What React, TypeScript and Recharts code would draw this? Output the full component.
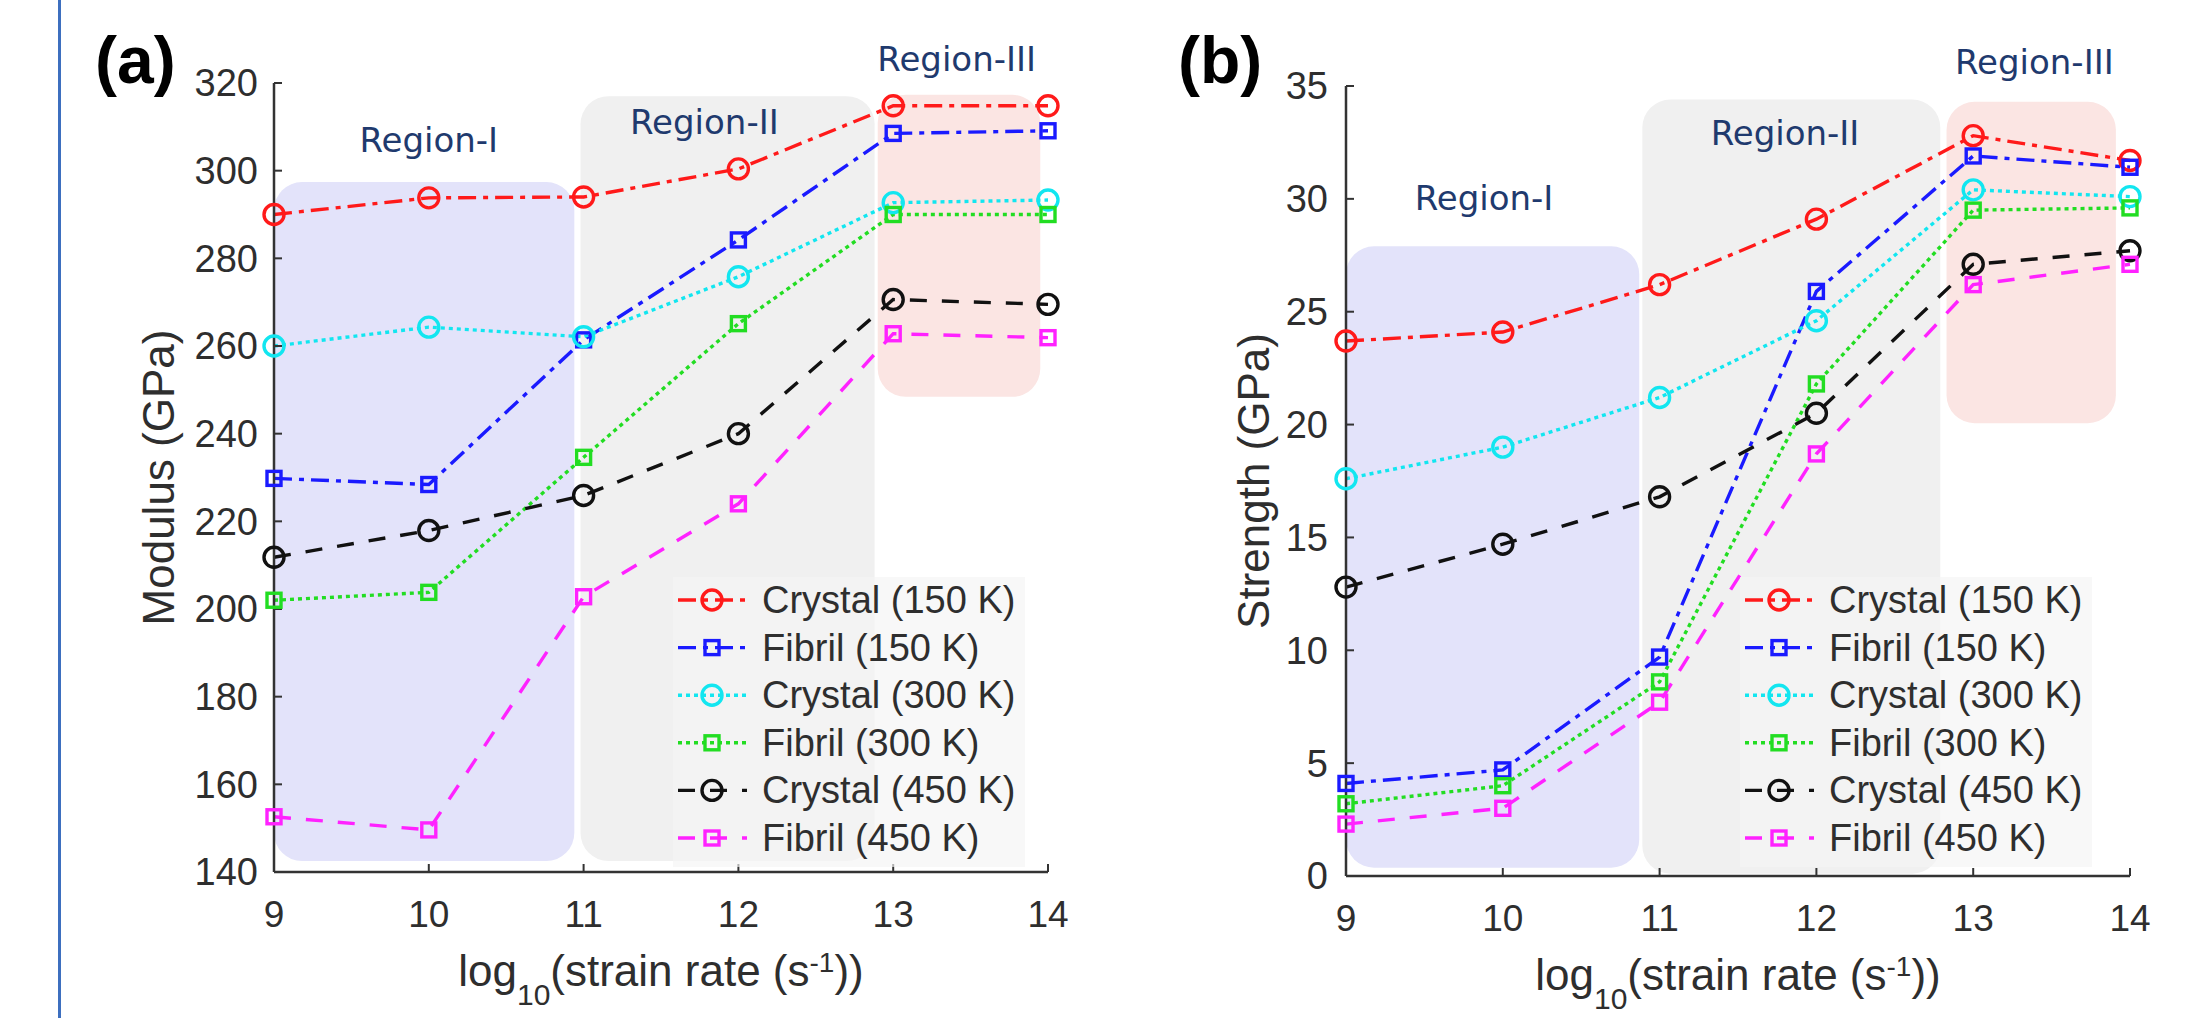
import React from "react";
import { LineChart, Line, XAxis, YAxis, ReferenceArea, ReferenceDot, Legend, Label } from "recharts";

// strain rate exponents (x axis)
const rates = [9, 10, 11, 12, 13, 14];
const xTicks = [9, 10, 11, 12, 13, 14];

// panel (a) - modulus (GPa)
const modCrystal150 = [290, 293.8, 294, 300.4, 314.8, 314.8];
const modFibril150 = [229.8, 228.4, 261.4, 284.2, 308.5, 309.1];
const modCrystal300 = [260, 264.3, 262.1, 275.8, 292.7, 293.3];
const modFibril300 = [202, 203.8, 234.6, 265.1, 290, 290];
const modCrystal450 = [211.8, 217.9, 225.9, 240, 270.6, 269.5];
const modFibril450 = [152.6, 149.6, 202.8, 224, 262.8, 261.9];
const modTicks = [140, 160, 180, 200, 220, 240, 260, 280, 300, 320];

// panel (b) - strength (GPa)
const strCrystal150 = [23.7, 24.1, 26.2, 29.1, 32.8, 31.7];
const strFibril150 = [4.1, 4.7, 9.7, 25.9, 31.9, 31.4];
const strCrystal300 = [17.6, 19.0, 21.2, 24.6, 30.4, 30.1];
const strFibril300 = [3.2, 4.0, 8.6, 21.8, 29.5, 29.6];
const strCrystal450 = [12.8, 14.7, 16.8, 20.5, 27.1, 27.7];
const strFibril450 = [2.3, 3.0, 7.7, 18.7, 26.2, 27.1];
const strTicks = [0, 5, 10, 15, 20, 25, 30, 35];

const seriesKeys = ["c150", "f150", "c300", "f300", "c450", "f450"];
const seriesNames = ["Crystal (150 K)", "Fibril (150 K)", "Crystal (300 K)", "Fibril (300 K)", "Crystal (450 K)", "Fibril (450 K)"];
const seriesColors = ["#ff1a1a", "#1a1aff", "#12e6f0", "#22dd22", "#111111", "#ff22ff"];
const seriesDash = ["18 7 5 7", "18 7 5 7", "4 4", "4 4", "17 15", "17 15"];
const seriesShape = ["circle", "square", "circle", "square", "circle", "square"];

// shaded regions [x1, x2, y1, y2]
const regionColors = ["#e3e3fa", "#f0f0f0", "#fbe5e3"];
const modRegions = [[9, 10.94, 142.5, 297.4], [10.98, 12.88, 142.5, 317], [12.9, 13.95, 248.4, 317.3]];
const strRegions = [[9, 10.87, 0.37, 27.9], [10.89, 12.79, 0.1, 34.4], [12.83, 13.91, 20.06, 34.3]];
const regionNames = ["Region-I", "Region-II", "Region-III"];
const modRegionTags = [[10.0, 307.0], [11.78, 311.1], [13.41, 325.5]];
const strRegionTags = [[9.88, 30.04], [11.8, 32.9], [13.39, 36.07]];

const FONT = '"Liberation Sans", Arial, Helvetica, sans-serif';
const INK = "#2e2e2e";
const AXIS = "#333333";
const NAVY = "#1f3a6e";
const LW = 3.4;

const series = seriesKeys.map((key, i) => ({
    key,
    name: seriesNames[i],
    color: seriesColors[i],
    dash: seriesDash[i],
    shape: seriesShape[i],
}));

function buildRows(cols: number[][]) {
    return rates.map((x, i) => {
        const row: any = { x };
        seriesKeys.forEach((k, j) => (row[k] = cols[j][i]));
        return row;
    });
}

const modRows = buildRows([modCrystal150, modFibril150, modCrystal300, modFibril300, modCrystal450, modFibril450]);
const strRows = buildRows([strCrystal150, strFibril150, strCrystal300, strFibril300, strCrystal450, strFibril450]);

function Marker(props: any) {
    const { cx, cy, stroke, shape } = props;
    if (cx == null || cy == null) return <g />;
    if (shape === "square") {
        return <rect x={cx - 7} y={cy - 7} width={14} height={14} fill="none" stroke={stroke} strokeWidth={LW} />;
    }
    return <circle cx={cx} cy={cy} r={10} fill="none" stroke={stroke} strokeWidth={LW} />;
}

const roundRect = (p: any) => (
    <rect x={p.x} y={p.y} width={p.width} height={p.height} rx={28} ry={28} fill={p.fill} />
);

function LegendBox() {
    return (
        <svg width={352} height={290} style={{ display: "block" }}>
            <rect width={352} height={290} fill="#f4f4f4" fillOpacity={0.65} />
            {series.map((s, i) => {
                const cy = 23 + i * 47.6;
                return (
                    <g key={s.key}>
                        <line x1={5} x2={74} y1={cy} y2={cy} stroke={s.color} strokeWidth={LW} strokeDasharray={s.dash} />
                        <Marker cx={39} cy={cy} stroke={s.color} shape={s.shape} />
                        <text x={89} y={cy} dominantBaseline="central" fontSize={38} fontFamily={FONT} fill={INK}>
                            {s.name}
                        </text>
                    </g>
                );
            })}
        </svg>
    );
}

const XLabel = (p: any) => {
    const { x, y, width } = p.viewBox;
    return (
        <text x={x + width / 2} y={y + 114} textAnchor="middle" fontSize={44} fontFamily={FONT} fill={INK}>
            log
            <tspan fontSize={30} dy={19}>10</tspan>
            <tspan fontSize={44} dy={-19}>(strain rate (s</tspan>
            <tspan fontSize={28} dy={-14}>-1</tspan>
            <tspan fontSize={44} dy={14}>))</tspan>
        </text>
    );
};

function makeYLabel(text: string, gap: number) {
    return (p: any) => {
        const { x, y, width, height } = p.viewBox;
        const cx = x + width - gap;
        const cy = y + height / 2;
        return (
            <text x={cx} y={cy} transform={`rotate(-90 ${cx} ${cy})`} textAnchor="middle" dominantBaseline="central"
                fontSize={44} fontFamily={FONT} fill={INK}>
                {text}
            </text>
        );
    };
}

type PanelProps = {
    rows: any[];
    yDomain: number[];
    yTicks: number[];
    yLabel: string;
    yLabelGap: number;
    regions: number[][];
    tags: number[][];
    width: number;
    margin: { top: number; right: number; left: number; bottom: number };
    yAxisWidth: number;
    xAxisHeight: number;
    yTickMargin: number;
    legendLeft: number;
};

function Panel(props: PanelProps) {
    const { rows, yDomain, yTicks, yLabel, yLabelGap, regions, tags, width, margin, yAxisWidth, xAxisHeight, yTickMargin, legendLeft } = props;
    return (
        <LineChart width={width} height={1018} data={rows} margin={margin}>
            {regions.map((r, i) => (
                <ReferenceArea key={"r" + i} x1={r[0]} x2={r[1]} y1={r[2]} y2={r[3]} fill={regionColors[i]}
                    fillOpacity={1} stroke="none" shape={roundRect} ifOverflow="visible" />
            ))}
            <XAxis dataKey="x" type="number" domain={[9, 14]} ticks={xTicks} height={xAxisHeight}
                tickSize={-8} tickMargin={37}
                tick={{ fontSize: 37, fill: INK, fontFamily: FONT }}
                axisLine={{ stroke: AXIS, strokeWidth: 2.5 }} tickLine={{ stroke: AXIS, strokeWidth: 2 }}
                label={{ content: XLabel }} />
            <XAxis xAxisId="top" orientation="top" type="number" domain={[9, 14]} ticks={xTicks} height={0}
                tickSize={-8} tick={false} axisLine={{ stroke: AXIS, strokeWidth: 2.5 }} tickLine={{ stroke: AXIS, strokeWidth: 2 }} />
            <YAxis type="number" domain={yDomain} ticks={yTicks} width={yAxisWidth} interval={0}
                tickSize={-8} tickMargin={yTickMargin}
                tick={{ fontSize: 38, fill: INK, fontFamily: FONT }}
                axisLine={{ stroke: AXIS, strokeWidth: 2.5 }} tickLine={{ stroke: AXIS, strokeWidth: 2 }}
                label={{ content: makeYLabel(yLabel, yLabelGap) }} />
            <YAxis yAxisId="right" orientation="right" type="number" domain={yDomain} ticks={yTicks} width={0}
                interval={0} tickSize={-8} tick={false}
                axisLine={{ stroke: AXIS, strokeWidth: 2.5 }} tickLine={{ stroke: AXIS, strokeWidth: 2 }} />
            {series.map((s) => (
                <Line key={s.key} dataKey={s.key} name={s.name} type="linear" stroke={s.color} strokeWidth={LW}
                    strokeDasharray={s.dash} isAnimationActive={false}
                    dot={(p: any) => <Marker key={s.key + p.index} cx={p.cx} cy={p.cy} stroke={s.color} shape={s.shape} />}
                    activeDot={false} />
            ))}
            {tags.map((t, i) => (
                <ReferenceDot key={"t" + i} x={t[0]} y={t[1]} r={0} stroke="none" fill="none" ifOverflow="visible">
                    <Label value={regionNames[i]} position="center" fill={NAVY} fontSize={34} fontFamily='"DejaVu Sans", Verdana, sans-serif' />
                </ReferenceDot>
            ))}
            <Legend layout="vertical" align="center" verticalAlign="middle"
                wrapperStyle={{ left: legendLeft, top: 577, width: 352, height: 290 }}
                content={() => <LegendBox />} />
        </LineChart>
    );
}

export default function App() {
    return (
        <div style={{ position: "absolute", left: 0, top: 0, width: 2203, height: 1018, background: "#fff", overflow: "hidden" }}>
            <div style={{ position: "absolute", left: 58, top: 0, width: 3, height: 1018, background: "#3d6fbf" }} />
            <div style={{ position: "absolute", left: 95, top: 22, fontFamily: FONT, fontWeight: 700, fontSize: 66, lineHeight: "76px", color: "#000" }}>(a)</div>
            <div style={{ position: "absolute", left: 1178, top: 22, fontFamily: FONT, fontWeight: 700, fontSize: 66, lineHeight: "76px", color: "#000" }}>(b)</div>
            <div style={{ position: "absolute", left: 0, top: 0 }}>
                <Panel rows={modRows} yDomain={[140, 320]} yTicks={modTicks} yLabel="Modulus (GPa)" yLabelGap={116}
                    regions={modRegions} tags={modRegionTags} width={1100}
                    margin={{ top: 83, right: 52, left: 0, bottom: 0 }} yAxisWidth={274} xAxisHeight={146}
                    yTickMargin={24} legendLeft={673} />
            </div>
            <div style={{ position: "absolute", left: 1100, top: 0 }}>
                <Panel rows={strRows} yDomain={[0, 35]} yTicks={strTicks} yLabel="Strength (GPa)" yLabelGap={93}
                    regions={strRegions} tags={strRegionTags} width={1103}
                    margin={{ top: 86, right: 73, left: 0, bottom: 0 }} yAxisWidth={246} xAxisHeight={142}
                    yTickMargin={26} legendLeft={640} />
            </div>
        </div>
    );
}
